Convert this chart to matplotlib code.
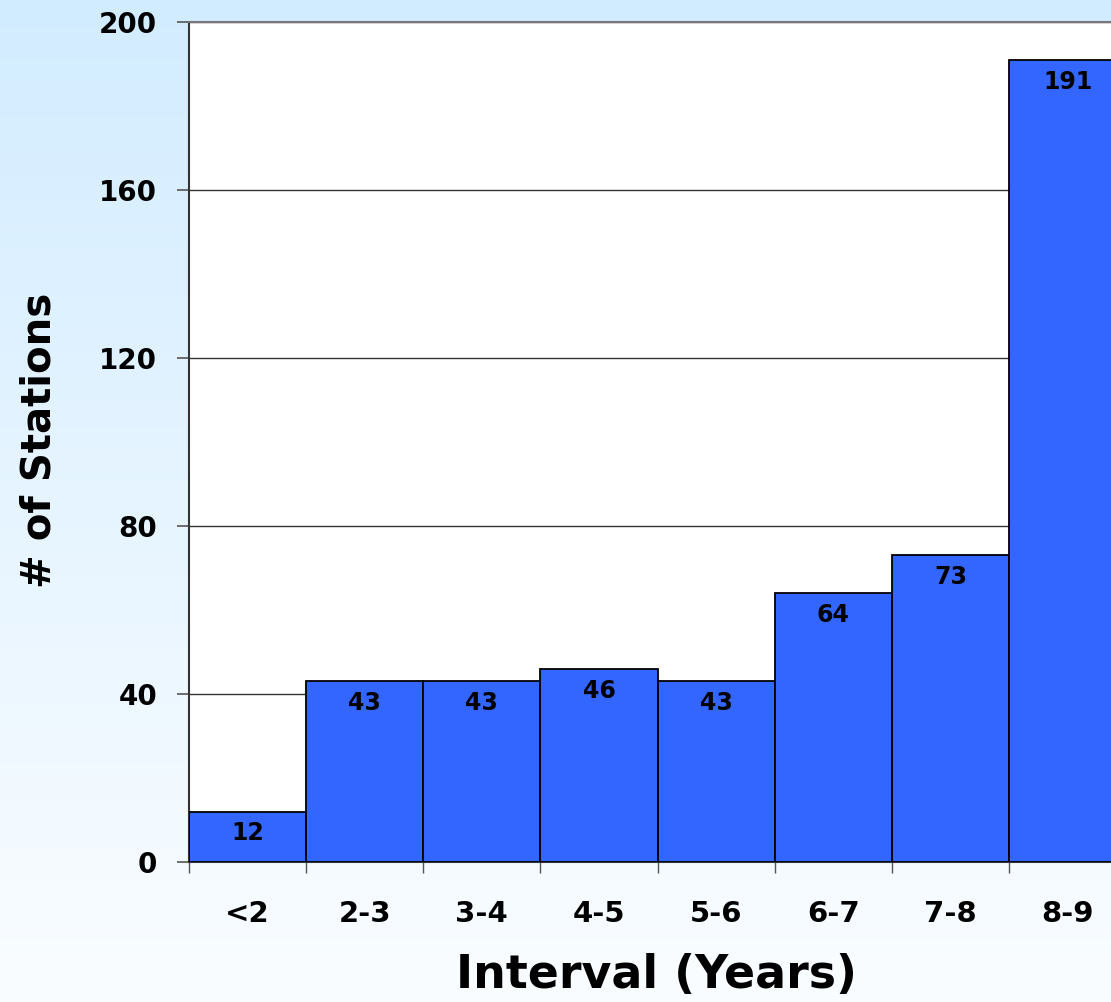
import matplotlib
matplotlib.use("Agg")
import matplotlib.pyplot as plt
import numpy as np

categories = ["<2", "2-3", "3-4", "4-5", "5-6", "6-7", "7-8", "8-9"]
values = [12, 43, 43, 46, 43, 64, 73, 191]
yticks = [0, 40, 80, 120, 160, 200]

plt.rcParams['font.family'] = ['DejaVu Sans']
plt.rcParams['font.weight'] = 'bold'

W, H = 1111, 1002
fig = plt.figure(figsize=(W/100, H/100), dpi=100)

# gradient background
bg = fig.add_axes([0, 0, 1, 1], zorder=-10)
top = np.array([210, 236, 255]) / 255.0
bot = np.array([250, 253, 255]) / 255.0
t = np.linspace(0, 1, 256)[:, None]
grad = top[None, :] * (1 - t) + bot[None, :] * t
bg.imshow(grad[:, None, :], aspect='auto', extent=[0, 1, 0, 1])
bg.axis('off')

left, right, topy, boty = 189, 1111, 22, 862
ax = fig.add_axes([left/W, (H-boty)/H, (right-left)/W, (boty-topy)/H])
ax.set_facecolor('white')

bw_px = 117.14
x = np.arange(len(categories))
bars = ax.bar(x, values, width=1.0, color='#3366FF', edgecolor='black', linewidth=1.3, zorder=3)

for xi, v in zip(x, values):
    ax.annotate(str(v), (xi, v), xytext=(0, -7), textcoords='offset points',
                ha='center', va='top', fontsize=17, fontweight='bold', zorder=4)

ax.set_yticks(yticks)
ax.set_yticklabels([str(v) for v in yticks], fontsize=20, fontweight='bold')
ax.tick_params(axis='y', length=9, width=1.2, color='#555555', pad=14)
ax.yaxis.grid(True, color='#333333', linewidth=1.0, zorder=0)

ax.set_xticks(x)
ax.set_xticklabels(categories, fontsize=21, fontweight='bold')
ax.tick_params(axis='x', which='major', length=0, pad=27)
ax.set_xticks(np.arange(-0.5, len(categories), 1.0), minor=True)
ax.tick_params(axis='x', which='minor', length=8, width=1.0, color='#555555')

ax.set_xlim(-0.5, -0.5 + (right-left)/bw_px)
ax.set_ylim(0, 200)

ax.spines['right'].set_visible(False)
ax.spines['top'].set_color('#777777')
ax.spines['top'].set_linewidth(1.5)
ax.spines['left'].set_color('#333333')
ax.spines['left'].set_linewidth(1.5)
ax.spines['bottom'].set_color('#333333')
ax.spines['bottom'].set_linewidth(1.5)

fig.text(656/W, 1 - 975/H, "Interval (Years)", ha='center', va='center',
         fontsize=33, fontweight='bold')
fig.text(40/W, 1 - 440/H, "# of Stations", ha='center', va='center',
         rotation=90, fontsize=29, fontweight='bold')

fig.savefig("out.png", dpi=100)
